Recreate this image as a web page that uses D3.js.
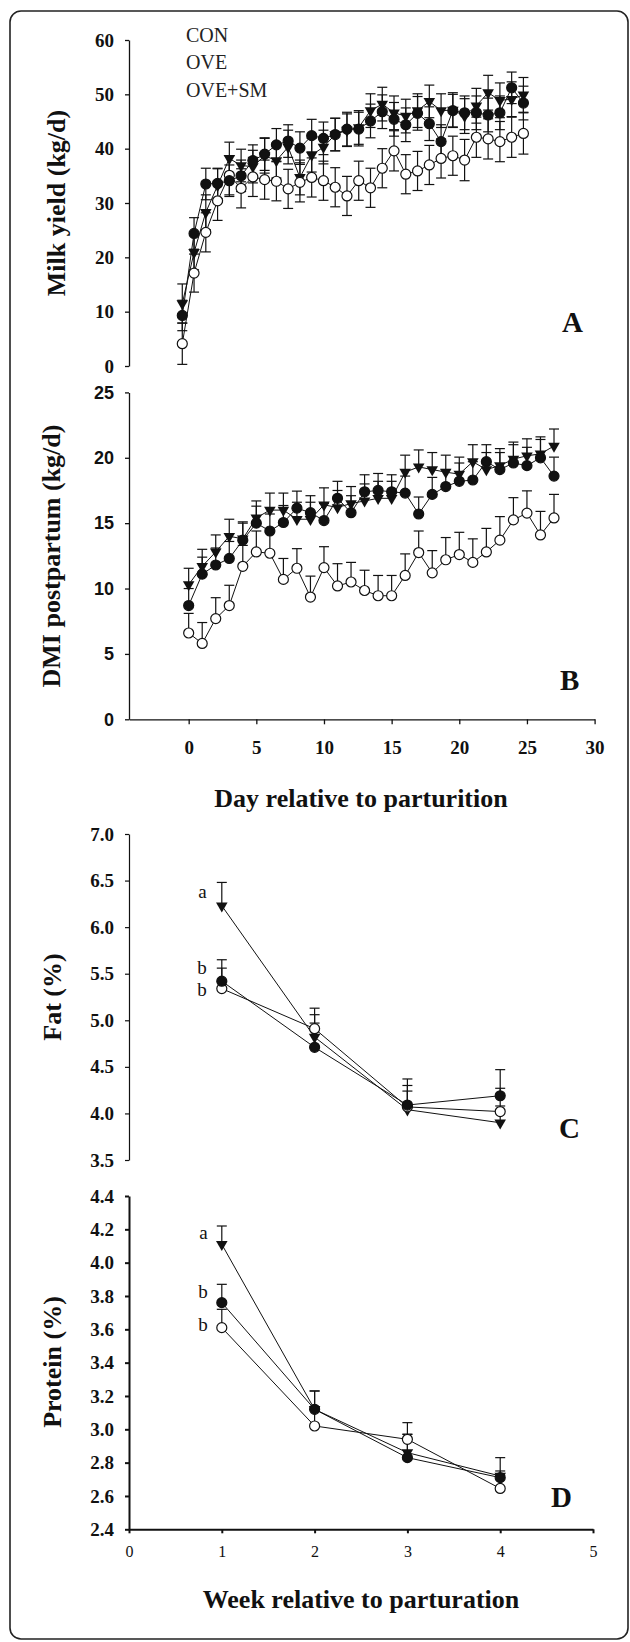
<!DOCTYPE html>
<html>
<head>
<meta charset="utf-8">
<script src="https://cdn.jsdelivr.net/npm/d3@7"></script>
<style>
  body { margin: 0; background: #fff; }
  svg { display: block; }
</style>
</head>
<body>
<script>
// DATA
const legendLabels = ["CON", "OVE", "OVE+SM"];

const milkDays = [0, 1, 2, 3, 4, 5, 6, 7, 8, 9, 10, 11, 12, 13, 14, 15, 16, 17, 18, 19, 20, 21, 22, 23, 24, 25, 26, 27, 28, 29];
const milkCon = [9.3, 24.4, 33.5, 33.6, 34.1, 35.0, 37.8, 39.0, 40.7, 41.4, 40.1, 42.4, 41.9, 42.6, 43.6, 43.6, 45.1, 46.8, 45.4, 44.4, 46.5, 44.6, 41.3, 47.0, 46.6, 46.6, 46.2, 46.6, 51.2, 48.4];
const milkConSe = [2.8, 2.9, 2.9, 2.8, 2.9, 2.9, 2.9, 3.0, 3.0, 3.0, 3.0, 3.0, 3.0, 3.0, 3.1, 3.1, 3.1, 3.1, 3.1, 3.1, 3.1, 3.1, 3.1, 3.0, 3.1, 3.1, 3.1, 3.1, 2.9, 3.1];
const milkOve = [4.1, 17.1, 24.6, 30.4, 35.1, 32.7, 34.8, 34.3, 34.0, 32.6, 33.8, 34.7, 34.1, 32.9, 31.3, 34.1, 32.8, 36.4, 39.6, 35.3, 35.9, 37.0, 38.2, 38.7, 37.9, 42.1, 41.8, 41.3, 42.1, 42.8];
const milkOveSe = [3.8, 3.5, 3.6, 3.6, 3.6, 3.6, 3.6, 3.6, 3.6, 3.6, 3.6, 3.6, 3.6, 3.6, 3.6, 3.6, 3.6, 3.6, 3.7, 3.6, 3.6, 3.6, 3.6, 3.6, 3.8, 3.7, 3.7, 3.7, 3.7, 3.8];
const milkSm = [11.5, 20.9, 28.3, 33.2, 38.2, 36.9, 36.7, 38.7, 37.8, 40.3, 34.7, 38.8, 40.3, 42.6, 43.4, 43.9, 47.0, 48.2, 46.6, 46.0, 47.0, 48.7, 47.0, 47.1, 46.0, 47.9, 50.3, 48.9, 49.1, 49.9];
const milkSmSe = [3.6, 3.2, 3.2, 3.1, 3.0, 3.0, 3.0, 3.2, 3.2, 3.1, 3.2, 3.1, 3.1, 3.0, 3.0, 3.1, 3.1, 3.1, 3.1, 3.1, 3.1, 3.0, 3.1, 3.2, 3.2, 3.2, 3.2, 3.2, 3.2, 3.2];
const milkTicks = [0, 10, 20, 30, 40, 50, 60];

const dmiDays = [0, 1, 2, 3, 4, 5, 6, 7, 8, 9, 10, 11, 12, 13, 14, 15, 16, 17, 18, 19, 20, 21, 22, 23, 24, 25, 26, 27];
const dmiCon = [8.7, 11.1, 11.8, 12.3, 13.7, 15.0, 14.4, 15.05, 16.15, 15.8, 15.2, 16.9, 15.8, 17.4, 17.5, 17.4, 17.3, 15.7, 17.2, 17.8, 18.2, 18.3, 19.7, 19.1, 19.6, 19.4, 20.0, 18.6];
const dmiConSe = [1.3, 1.3, 1.3, 1.3, 1.3, 1.3, 1.3, 1.3, 1.3, 1.3, 1.3, 1.3, 1.3, 1.3, 1.3, 1.3, 1.3, 1.3, 1.3, 1.3, 1.4, 1.4, 1.3, 1.3, 1.4, 1.4, 1.4, 1.45];
const dmiOve = [6.6, 5.8, 7.7, 8.7, 11.7, 12.8, 12.7, 10.7, 11.55, 9.35, 11.6, 10.2, 10.5, 9.85, 9.45, 9.45, 11.0, 12.75, 11.2, 12.2, 12.6, 12.0, 12.8, 13.7, 15.25, 15.77, 14.1, 15.4];
const dmiOveSe = [1.5, 1.6, 1.6, 1.55, 1.6, 1.6, 1.6, 1.6, 1.5, 1.6, 1.6, 1.7, 1.5, 1.55, 1.55, 1.55, 1.65, 1.65, 1.7, 1.7, 1.7, 1.8, 1.8, 1.8, 1.7, 1.7, 1.8, 1.8];
const dmiSm = [10.3, 11.7, 12.8, 14.0, 13.8, 15.4, 16.0, 16.0, 15.3, 15.3, 16.4, 16.2, 16.5, 16.7, 16.9, 16.9, 18.9, 19.3, 19.1, 18.9, 18.75, 19.7, 19.1, 19.4, 19.9, 20.15, 20.3, 20.9];
const dmiSmSe = [1.25, 1.3, 1.3, 1.3, 1.3, 1.3, 1.3, 1.3, 1.3, 1.3, 1.3, 1.3, 1.3, 1.3, 1.3, 1.3, 1.3, 1.3, 1.3, 1.3, 1.3, 1.3, 1.3, 1.3, 1.3, 1.3, 1.3, 1.3];
const dmiTicks = [0, 5, 10, 15, 20, 25];
const dayTicks = [0, 5, 10, 15, 20, 25, 30];

const weeks = [1, 2, 3, 4];
const weekTicks = [0, 1, 2, 3, 4, 5];
const fatCon = [5.42, 4.71, 4.09, 4.19];
const fatConSe = [0.23, 0.26, 0.28, 0.28];
const fatOve = [5.34, 4.91, 4.07, 4.02];
const fatOveSe = [0.22, 0.22, 0.23, 0.25];
const fatSm = [6.23, 4.82, 4.04, 3.90];
const fatSmSe = [0.25, 0.24, 0.2, 0.18];
const fatTicks = [3.5, 4.0, 4.5, 5.0, 5.5, 6.0, 6.5, 7.0];
const fatLetters = ["a", "b", "b"];
const fatLetterAt = [6.31, 5.50, 5.26];

const protCon = [3.76, 3.12, 2.83, 2.71];
const protConSe = [0.11, 0.11, 0.14, 0.04];
const protOve = [3.61, 3.02, 2.94, 2.645];
const protOveSe = [0.11, 0.1, 0.10, 0.08];
const protSm = [4.11, 3.12, 2.86, 2.72];
const protSmSe = [0.11, 0.11, 0.11, 0.11];
const protTicks = [2.4, 2.6, 2.8, 3.0, 3.2, 3.4, 3.6, 3.8, 4.0, 4.2, 4.4];
const protLetters = ["a", "b", "b"];
const protLetterAt = [4.14, 3.79, 3.59];

// SETUP
const width = 630;
const height = 1642;
const serif = '"Liberation Serif", "Times New Roman", serif';
const sans = '"Liberation Sans", Arial, sans-serif';
const ink = "#111";

const svg = d3.select("body").append("svg")
  .attr("width", width)
  .attr("height", height);

svg.append("rect")
  .attr("x", 10).attr("y", 11)
  .attr("width", 618).attr("height", 1628)
  .attr("rx", 11)
  .attr("fill", "none")
  .attr("stroke", "#222")
  .attr("stroke-width", 1.6);

// HELPERS
const triangle = d3.symbol().type(d3.symbolTriangle).size(58);

const drawErrors = (g, x, y, xs, values, errs, twoSided) => {
  const pts = xs.map((d, i) => ({ x: d, v: values[i], e: errs[i] }));
  const bars = g.append("g").attr("stroke", ink).attr("stroke-width", 1.2);
  pts.forEach((p) => {
    const top = y(p.v + p.e);
    const bot = twoSided ? y(p.v - p.e) : y(p.v);
    bars.append("line").attr("x1", x(p.x)).attr("x2", x(p.x)).attr("y1", top).attr("y2", bot);
    bars.append("line").attr("x1", x(p.x) - 5).attr("x2", x(p.x) + 5).attr("y1", top).attr("y2", top);
    if (twoSided) {
      bars.append("line").attr("x1", x(p.x) - 5).attr("x2", x(p.x) + 5).attr("y1", bot).attr("y2", bot);
    }
  });
  return pts;
};

const drawLine = (g, x, y, pts) => {
  g.append("path")
    .datum(pts)
    .attr("fill", "none")
    .attr("stroke", ink)
    .attr("stroke-width", 1)
    .attr("d", d3.line().x((d) => x(d.x)).y((d) => y(d.v)));
};

const drawMarks = (g, x, y, pts, kind) => {
  if (kind === "tri") {
    g.selectAll(null).data(pts).enter().append("path")
      .attr("d", triangle)
      .attr("transform", (d) => `translate(${x(d.x)},${y(d.v)}) rotate(180)`)
      .attr("fill", ink);
  } else {
    g.selectAll(null).data(pts).enter().append("circle")
      .attr("cx", (d) => x(d.x))
      .attr("cy", (d) => y(d.v))
      .attr("r", 5)
      .attr("fill", kind === "open" ? "#fff" : ink)
      .attr("stroke", ink)
      .attr("stroke-width", 1.2);
  }
};

const drawPanel = (x, y, xs, series, twoSided) => {
  const g = svg.append("g");
  const all = series.map((s) => drawErrors(g, x, y, xs, s.values, s.errs, twoSided));
  all.forEach((pts) => drawLine(g, x, y, pts));
  all.forEach((pts, i) => drawMarks(g, x, y, pts, series[i].kind));
  return g;
};

const styleAxis = (g, font, size, weight, strokeW) => {
  g.attr("font-family", font)
    .attr("font-size", size)
    .attr("font-weight", weight)
    .style("color", ink);
  g.selectAll("path, line").attr("stroke-width", strokeW);
};

const yTitle = (text, x, y) => {
  svg.append("text")
    .attr("transform", `translate(${x},${y}) rotate(-90)`)
    .attr("text-anchor", "middle")
    .attr("font-family", serif)
    .attr("font-weight", "bold")
    .attr("font-size", 26)
    .attr("fill", ink)
    .text(text);
};

const xTitle = (text, x, y) => {
  svg.append("text")
    .attr("x", x).attr("y", y)
    .attr("text-anchor", "middle")
    .attr("font-family", serif)
    .attr("font-weight", "bold")
    .attr("font-size", 26)
    .attr("fill", ink)
    .text(text);
};

const panelLetter = (text, x, y) => {
  svg.append("text")
    .attr("x", x).attr("y", y)
    .attr("font-family", serif)
    .attr("font-weight", "bold")
    .attr("font-size", 29)
    .attr("fill", ink)
    .text(text);
};

// SCALES
const xMilk = d3.scaleLinear().domain([-4.53, 35]).range([129, 594]);
const yMilk = d3.scaleLinear().domain([0, 60]).range([366, 40]);
const xDay = d3.scaleLinear().domain([-4.41, 30]).range([129, 594.6]);
const yDmi = d3.scaleLinear().domain([0, 25]).range([719.3, 392.4]);
const xWeek = d3.scaleLinear().domain([0, 5]).range([129, 593]);
const yFat = d3.scaleLinear().domain([3.5, 7.0]).range([1160, 834]);
const yProt = d3.scaleLinear().domain([2.4, 4.4]).range([1529.3, 1196]);

// PANEL A
svg.append("g").attr("transform", "translate(129,0)")
  .call(d3.axisLeft(yMilk).tickValues(milkTicks).tickSize(4).tickPadding(11).tickSizeOuter(0))
  .call((g) => styleAxis(g, serif, 19, "bold", 1.3));

drawPanel(xMilk, yMilk, milkDays, [
  { values: milkSm, errs: milkSmSe, kind: "tri" },
  { values: milkOve, errs: milkOveSe, kind: "open" },
  { values: milkCon, errs: milkConSe, kind: "filled" },
], true);

svg.append("g").selectAll("text").data(legendLabels).enter().append("text")
  .attr("x", 186)
  .attr("y", (d, i) => 42 + i * 27.4)
  .attr("font-family", serif)
  .attr("font-size", 20)
  .attr("fill", "#222")
  .text((d) => d);

yTitle("Milk yield (kg/d)", 65, 203);
panelLetter("A", 562, 332);

// PANEL B
svg.append("g").attr("transform", "translate(129,0)")
  .call(d3.axisLeft(yDmi).tickValues(dmiTicks).tickSize(4).tickPadding(11).tickSizeOuter(0))
  .call((g) => styleAxis(g, sans, 18, "bold", 1.3));

svg.append("g").attr("transform", "translate(0,719.3)")
  .call(d3.axisBottom(xDay).tickValues(dayTicks).tickSize(5).tickSizeOuter(0))
  .call((g) => styleAxis(g, serif, 19, "bold", 1.3))
  .call((g) => g.selectAll("text").attr("y", 35).attr("dy", null));

drawPanel(xDay, yDmi, dmiDays, [
  { values: dmiSm, errs: dmiSmSe, kind: "tri" },
  { values: dmiOve, errs: dmiOveSe, kind: "open" },
  { values: dmiCon, errs: dmiConSe, kind: "filled" },
], false);

yTitle("DMI postpartum (kg/d)", 60, 556);
panelLetter("B", 560, 690);
xTitle("Day relative to parturition", 361, 807);

// PANEL C
svg.append("g").attr("transform", "translate(129,0)")
  .call(d3.axisLeft(yFat).tickValues(fatTicks).tickSize(4).tickPadding(11).tickSizeOuter(0).tickFormat(d3.format(".1f")))
  .call((g) => styleAxis(g, serif, 19, "bold", 1.2));

drawPanel(xWeek, yFat, weeks, [
  { values: fatSm, errs: fatSmSe, kind: "tri" },
  { values: fatOve, errs: fatOveSe, kind: "open" },
  { values: fatCon, errs: fatConSe, kind: "filled" },
], false);

svg.append("g").selectAll("text").data(fatLetters).enter().append("text")
  .attr("x", xWeek(weeks[0]) - 15)
  .attr("y", (d, i) => yFat(fatLetterAt[i]))
  .attr("text-anchor", "end")
  .attr("font-family", serif)
  .attr("font-size", 19)
  .attr("fill", ink)
  .text((d) => d);

yTitle("Fat (%)", 61, 997);
panelLetter("C", 559, 1138);

// PANEL D
svg.append("g").attr("transform", "translate(129,0)")
  .call(d3.axisLeft(yProt).tickValues(protTicks).tickSize(4).tickPadding(11).tickSizeOuter(0).tickFormat(d3.format(".1f")))
  .call((g) => styleAxis(g, serif, 19, "bold", 2));

svg.append("g").attr("transform", "translate(0,1529.3)")
  .call(d3.axisBottom(xWeek).tickValues(weekTicks).tickSize(4).tickSizeOuter(0).tickFormat(d3.format("d")))
  .call((g) => styleAxis(g, serif, 16, "normal", 2))
  .call((g) => g.selectAll("text").attr("y", 28).attr("dy", null));

drawPanel(xWeek, yProt, weeks, [
  { values: protSm, errs: protSmSe, kind: "tri" },
  { values: protOve, errs: protOveSe, kind: "open" },
  { values: protCon, errs: protConSe, kind: "filled" },
], false);

svg.append("g").selectAll("text").data(protLetters).enter().append("text")
  .attr("x", xWeek(weeks[0]) - 14)
  .attr("y", (d, i) => yProt(protLetterAt[i]))
  .attr("text-anchor", "end")
  .attr("font-family", serif)
  .attr("font-size", 19)
  .attr("fill", ink)
  .text((d) => d);

yTitle("Protein (%)", 61, 1362);
panelLetter("D", 551, 1507);
xTitle("Week relative to parturation", 361, 1608);
</script>
</body>
</html>
